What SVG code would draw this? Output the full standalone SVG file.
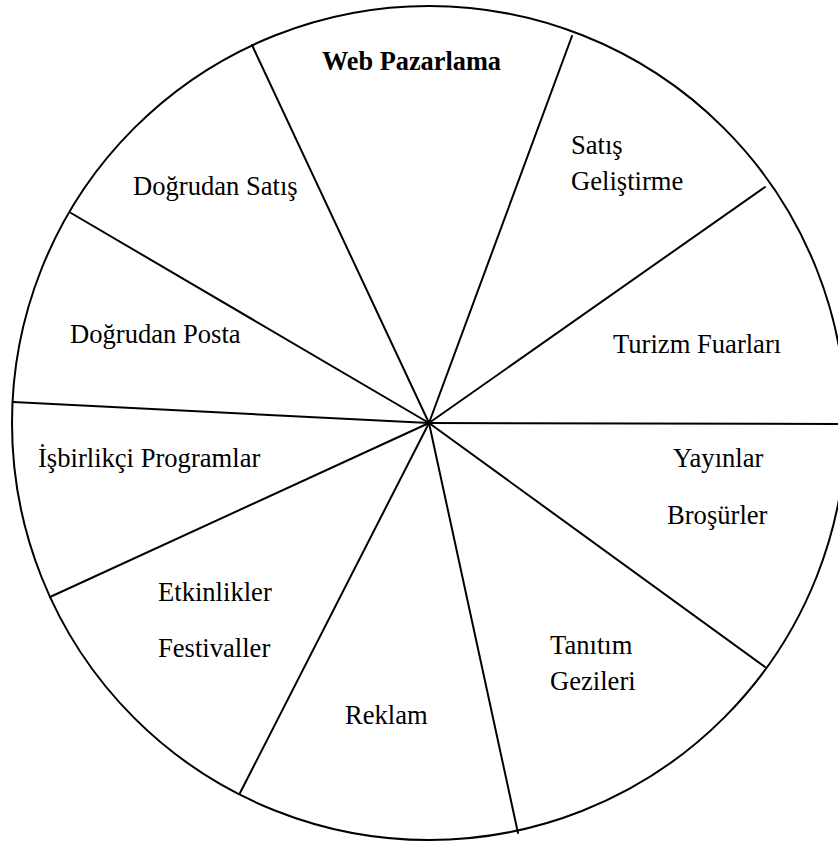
<svg xmlns="http://www.w3.org/2000/svg" width="838" height="843" viewBox="0 0 838 843">
  <style>
    .rim { fill: #ffffff; stroke: #000000; stroke-width: 2; }
    .spoke { stroke: #000000; stroke-width: 2; fill: none; stroke-linecap: round; }
    .label { font-family: "Liberation Serif", "Times New Roman", serif; font-size: 26.6px; fill: #000000; }
    .title { font-weight: bold; font-size: 26.3px; }
  </style>
  <rect x="0" y="0" width="838" height="843" fill="#ffffff"/>

  <!-- outer wheel -->
  <circle class="rim" cx="429" cy="423" r="417"/>

  <!-- dividing spokes from the hub -->
  <g id="connectors">
    <line class="spoke" x1="429" y1="423" x2="252" y2="45"/>
    <line class="spoke" x1="429" y1="423" x2="572" y2="36"/>
    <line class="spoke" x1="429" y1="423" x2="765" y2="187"/>
    <line class="spoke" x1="429" y1="423" x2="838" y2="424"/>
    <line class="spoke" x1="429" y1="423" x2="765" y2="667"/>
    <line class="spoke" x1="429" y1="423" x2="518" y2="833"/>
    <line class="spoke" x1="429" y1="423" x2="240" y2="793"/>
    <line class="spoke" x1="429" y1="423" x2="50" y2="597"/>
    <line class="spoke" x1="429" y1="423" x2="13" y2="402"/>
    <line class="spoke" x1="429" y1="423" x2="71" y2="213"/>
  </g>

  <!-- segment labels -->
  <g id="web-pazarlama"><text class="label title" x="322" y="70">Web Pazarlama</text></g>
  <g id="satis-gelistirme">
    <text class="label" x="571" y="154">Satış</text>
    <text class="label" x="571" y="190">Geliştirme</text>
  </g>
  <g id="turizm-fuarlari"><text class="label" x="613" y="353">Turizm Fuarları</text></g>
  <g id="yayinlar-brosurler">
    <text class="label" x="673" y="467">Yayınlar</text>
    <text class="label" x="667" y="524">Broşürler</text>
  </g>
  <g id="tanitim-gezileri">
    <text class="label" x="550" y="654">Tanıtım</text>
    <text class="label" x="550" y="690">Gezileri</text>
  </g>
  <g id="reklam"><text class="label" x="345" y="724">Reklam</text></g>
  <g id="etkinlikler-festivaller">
    <text class="label" x="158" y="601">Etkinlikler</text>
    <text class="label" x="158" y="657">Festivaller</text>
  </g>
  <g id="isbirlikci-programlar"><text class="label" x="38" y="467">İşbirlikçi Programlar</text></g>
  <g id="dogrudan-posta"><text class="label" x="70" y="343">Doğrudan Posta</text></g>
  <g id="dogrudan-satis"><text class="label" x="133" y="195">Doğrudan Satış</text></g>
</svg>
